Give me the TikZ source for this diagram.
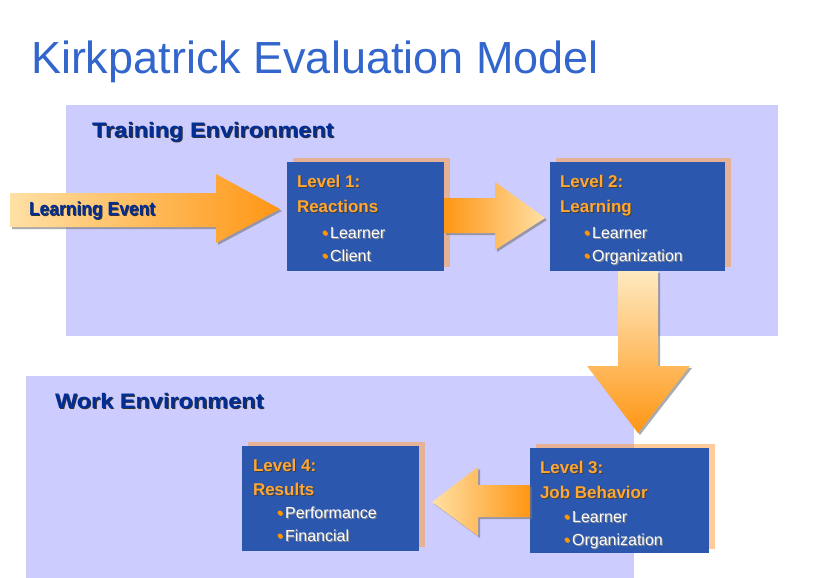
\documentclass[tikz,border=0pt]{standalone}
\usepackage{fontspec}
\setmainfont{Liberation Sans}
\newfontfamily\widesans{Liberation Sans}[FakeStretch=1.12]
\newfontfamily\narrowsans{Liberation Sans}[FakeStretch=0.92]
\definecolor{titleblue}{RGB}{51,102,204}
\definecolor{lav}{RGB}{204,204,255}
\definecolor{boxblue}{RGB}{43,87,174}
\definecolor{headorange}{RGB}{255,166,51}
\definecolor{dkblue}{RGB}{0,45,150}
\definecolor{bulorange}{RGB}{255,150,0}
\definecolor{arrlight}{RGB}{255,224,165}
\definecolor{arrorange}{RGB}{255,150,20}
\definecolor{shadoworange}{RGB}{255,153,51}
\newcommand\shtext[5]{%
  \node[txt,#3,text=#4] at ([shift={(1,1)}]#2) {#5};
  \node[txt,#3] (#1) at (#2) {#5};}
\newcommand\bul{{\color{bulorange}\textbullet}\hspace{2.5pt}}
\begin{document}
\begin{tikzpicture}[x=1pt,y=-1pt,
  txt/.style={anchor=base west, inner sep=0pt, outer sep=0pt},
  titlestyle/.style={font=\fontsize{45}{50}\selectfont, text=titleblue},
  envstyle/.style={font=\widesans\bfseries\fontsize{21}{24}\selectfont, text=dkblue},
  evstyle/.style={font=\narrowsans\bfseries\fontsize{19}{22}\selectfont, text=dkblue},
  headstyle/.style={font=\bfseries\fontsize{17}{20}\selectfont, text=headorange},
  bulstyle/.style={font=\fontsize{16}{18}\selectfont, text=white},
  levelbox/.style={anchor=north west, fill=boxblue, inner sep=0pt, outer sep=0pt,
    preaction={fill=shadoworange, fill opacity=0.5, transform canvas={shift={(6pt,4pt)}}}},
  blockarrow/.style={preaction={fill=black!55, fill opacity=0.6, transform canvas={shift={(2pt,-2pt)}}}}
]
\useasboundingbox (0,0) rectangle (835,578);
\fill[white] (0,0) rectangle (835,578);

% title
\node[txt, titlestyle] (title) at (31,74) {Kirkpatrick Evaluation Model};

% environments
\fill[lav] (66,105) rectangle (778,336);
\fill[lav] (26,376) rectangle (634,578);
\shtext{trainlbl}{92,137}{envstyle}{black!80}{Training Environment}
\shtext{worklbl}{55,408}{envstyle}{black!80}{Work Environment}

% level boxes
\node[levelbox, minimum width=157, minimum height=109] (l1) at (287,162) {};
\node[levelbox, minimum width=175, minimum height=109] (l2) at (550,162) {};
\node[levelbox, minimum width=179, minimum height=105] (l3) at (530,448) {};
\node[levelbox, minimum width=177, minimum height=105] (l4) at (242,446) {};

% learning event arrow
\coordinate (letip) at (280,209);
\path[blockarrow, left color=arrlight, right color=arrorange]
  (10,193) -- (216,193) -- (216,174) -- (letip) -- (216,243) -- (216,227) -- (10,227) -- cycle;
\shtext{levent}{29,215}{evstyle}{black!80}{Learning Event}

% level 1 -> level 2
\coordinate (a12tip) at (545,218);
\path[blockarrow, left color=arrorange, right color=arrlight]
  (l1.east |- 0,198) -- (495,198) -- (495,182) -- (a12tip) -- (495,250) -- (495,233) -- (l1.east |- 0,233) -- cycle;

% level 2 -> level 3
\coordinate (a23tip) at (638,433);
\path[blockarrow, top color=arrlight!70!white, bottom color=arrorange]
  (618,0 |- l2.south) -- (618,366) -- (587,366) -- (a23tip) -- (690,366) -- (658,366) -- (658,0 |- l2.south) -- cycle;

% level 3 -> level 4
\coordinate (a34tip) at (432,502);
\path[blockarrow, left color=arrlight, right color=arrorange]
  (l3.west |- 0,485) -- (478,485) -- (478,467) -- (a34tip) -- (478,536) -- (478,517) -- (l3.west |- 0,517) -- cycle;

% level 1 text
\shtext{l1a}{297,187}{headstyle}{black!75}{Level 1:}
\shtext{l1b}{297,212}{headstyle}{black!75}{Reactions}
\shtext{l1c}{322,238}{bulstyle}{black!45}{\bul Learner}
\shtext{l1d}{322,261}{bulstyle}{black!45}{\bul Client}

% level 2 text
\shtext{l2a}{560,187}{headstyle}{black!75}{Level 2:}
\shtext{l2b}{560,212}{headstyle}{black!75}{Learning}
\shtext{l2c}{584,238}{bulstyle}{black!45}{\bul Learner}
\shtext{l2d}{584,261}{bulstyle}{black!45}{\bul Organization}

% level 3 text
\shtext{l3a}{540,473}{headstyle}{black!75}{Level 3:}
\shtext{l3b}{540,498}{headstyle}{black!75}{Job Behavior}
\shtext{l3c}{564,522}{bulstyle}{black!45}{\bul Learner}
\shtext{l3d}{564,545}{bulstyle}{black!45}{\bul Organization}

% level 4 text
\shtext{l4a}{253,471}{headstyle}{black!75}{Level 4:}
\shtext{l4b}{253,495}{headstyle}{black!75}{Results}
\shtext{l4c}{277,518}{bulstyle}{black!45}{\bul Performance}
\shtext{l4d}{277,541}{bulstyle}{black!45}{\bul Financial}
\end{tikzpicture}
\end{document}
